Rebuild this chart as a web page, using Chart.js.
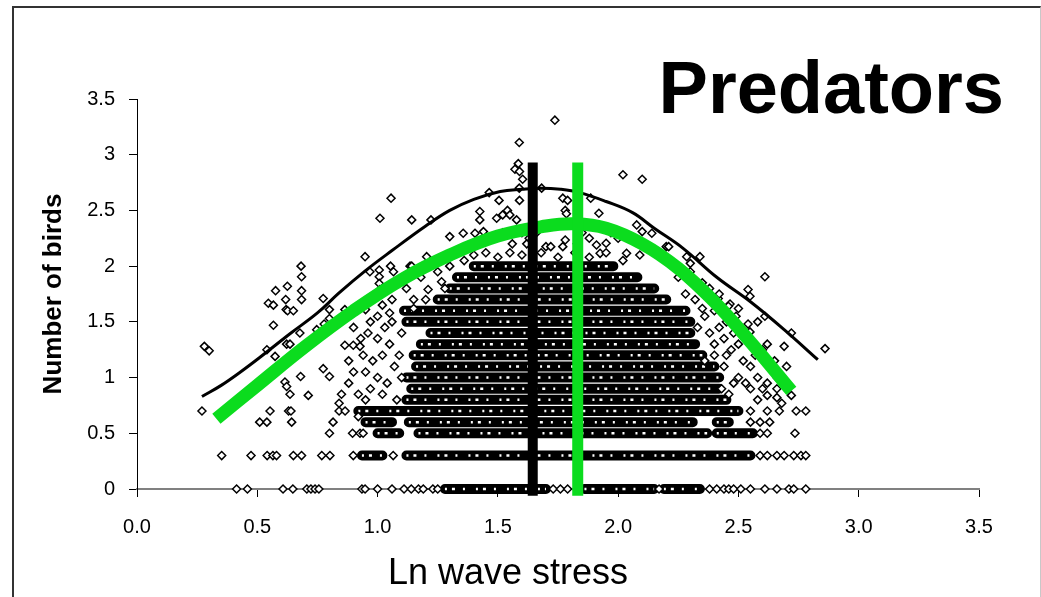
<!DOCTYPE html>
<html>
<head>
<meta charset="utf-8">
<title>Predators</title>
<script src="https://cdn.jsdelivr.net/npm/chart.js@4.4.0/dist/chart.umd.min.js"></script>
<style>
    html, body { margin: 0; padding: 0; background: #fff; }
    #wrap { position: relative; width: 1041px; height: 597px; overflow: hidden; }
    #chart { position: absolute; left: 0; top: 0; }
    #frame {
        position: absolute; left: 12px; top: 6px; width: 1026px; height: 591px;
        border-top: 2px solid #333; border-left: 2px solid #333; border-right: 1px solid #c8c8c8;
        pointer-events: none;
    }
</style>
</head>
<body>
<div id="wrap">
    <canvas id="chart" width="1041" height="597"></canvas>
    <div id="frame"></div>
</div>
<script>
const chartTitle = "Predators";
const xTitle = "Ln wave stress";
const yTitle = "Number of birds";

// single birds counts along the low rows (x = ln wave stress)
const row0X = [0.414, 0.459, 0.607, 0.648, 0.706, 0.723, 0.74, 0.756, 0.935, 0.948, 1.00, 1.06, 1.11, 1.14,
    1.17, 1.19, 1.23, 1.25, 1.73, 1.76, 1.79, 2.17, 2.38, 2.41, 2.44, 2.46, 2.48, 2.51, 2.55, 2.61, 2.66, 2.71,
    2.73, 2.78];
const row03X = [0.352, 0.474, 0.541, 0.565, 0.58, 0.65, 0.684, 0.768, 0.802, 0.899, 1.065, 2.59, 2.62, 2.66,
    2.69, 2.73, 2.76, 2.78];
const row05X = [0.80, 0.896, 0.927, 0.94, 2.59, 2.62, 2.735];
const row06X = [0.51, 0.54, 0.643, 0.815, 2.55, 2.59, 2.63];
const row07X = [0.27, 0.553, 0.63, 0.64, 0.84, 0.865, 2.55, 2.62, 2.67, 2.74, 2.78];

// scattered points away from the rows [x, y]
const otherPoints = [
    [0.28, 1.28], [0.30, 1.24], [0.54, 1.25], [0.567, 1.47], [0.546, 1.667], [0.567, 1.65], [0.576, 1.78],
    [0.574, 1.19], [0.618, 1.70], [0.625, 1.82], [0.62, 1.61], [0.626, 1.60], [0.65, 1.60], [0.622, 1.30],
    [0.636, 1.30], [0.615, 0.96], [0.622, 0.92], [0.636, 0.85], [0.682, 2.0], [0.684, 1.905], [0.684, 1.78],
    [0.684, 1.70], [0.677, 1.40], [0.68, 1.01], [0.712, 0.84], [0.774, 1.71], [0.80, 1.61], [0.80, 1.53],
    [0.778, 1.48], [0.747, 1.43], [0.774, 1.08], [0.80, 1.01], [0.84, 0.77], [0.864, 1.61], [0.864, 1.29],
    [0.899, 1.29], [0.927, 1.28], [0.948, 2.085], [0.968, 1.95], [1.007, 1.965], [1.007, 1.905], [1.007, 1.845],
    [1.01, 1.79], [1.054, 2.0], [1.066, 1.95], [1.05, 1.58], [1.135, 2.0], [1.056, 2.61], [1.01, 2.43],
    [0.95, 1.61], [0.97, 1.50], [1.00, 1.55], [1.03, 1.45], [0.96, 1.40], [1.00, 1.35], [1.05, 1.30],
    [0.94, 1.20], [0.98, 1.15], [1.02, 1.20], [1.07, 1.10], [0.95, 1.05], [1.00, 1.00], [1.04, 0.95],
    [0.97, 0.90], [1.02, 0.85], [1.08, 0.80], [0.95, 0.80], [1.10, 1.40], [1.09, 1.20], [1.10, 1.00],
    [0.90, 1.05], [0.88, 0.95], [0.92, 0.85], [0.93, 1.35], [0.90, 1.45], [0.98, 1.70], [1.02, 1.65],
    [1.06, 1.70], [1.12, 1.80], [1.18, 1.90], [1.25, 1.95], [1.30, 2.00], [1.20, 1.70], [1.15, 1.62],
    [0.88, 1.15], [0.85, 0.85], [0.92, 0.65], [1.06, 1.50],
    [1.737, 3.31], [1.589, 3.11], [1.585, 2.92], [1.571, 2.87], [1.59, 2.85], [1.603, 2.78], [1.589, 2.70],
    [1.682, 2.70], [2.02, 2.82], [2.10, 2.78], [1.142, 2.415], [1.222, 2.415], [1.464, 2.66], [1.505, 2.59],
    [1.59, 2.59], [1.54, 2.50], [1.52, 2.46], [1.55, 2.46], [1.495, 2.43], [1.578, 2.415], [1.77, 2.61],
    [1.79, 2.59], [1.78, 2.50], [1.785, 2.47], [1.886, 2.61], [1.92, 2.475], [1.425, 2.49], [1.425, 2.415],
    [1.30, 2.265], [1.356, 2.295], [1.405, 2.295], [1.44, 2.31], [1.204, 2.085], [1.142, 2.0], [1.266, 1.86],
    [1.28, 1.80], [1.21, 1.79], [1.15, 1.70], [1.70, 2.175], [1.72, 2.175], [1.78, 2.235], [1.77, 2.175],
    [2.077, 2.37], [2.10, 2.31], [2.14, 2.295], [2.20, 2.175], [2.285, 2.085], [2.30, 2.025], [1.91, 2.19],
    [1.95, 2.205], [1.925, 2.115], [2.035, 2.115], [2.09, 2.10], [1.60, 2.30], [1.63, 2.25], [1.66, 2.30],
    [1.52, 2.30], [1.48, 2.25], [1.56, 2.20], [1.62, 2.20], [1.85, 2.30], [1.88, 2.25], [1.83, 2.20],
    [1.97, 2.30], [2.00, 2.25],
    [1.40, 2.10], [1.45, 2.12], [1.50, 2.08], [1.55, 2.12], [1.60, 2.10], [1.68, 2.12], [1.75, 2.08],
    [1.82, 2.12], [1.88, 2.08], [1.95, 2.12], [1.36, 2.05], [2.02, 2.05],
    [2.21, 2.175], [2.34, 2.085], [2.61, 1.905], [2.416, 1.71], [2.465, 1.66], [2.458, 1.64], [2.54, 1.79],
    [2.548, 1.73], [2.49, 1.55], [2.61, 1.55], [2.54, 1.48], [2.548, 1.41], [2.72, 1.40], [2.62, 1.30],
    [2.69, 1.28], [2.86, 1.26], [2.72, 0.84], [2.68, 0.77], [2.62, 0.84], [2.30, 1.95], [2.35, 1.85],
    [2.38, 1.80], [2.25, 1.90], [2.40, 1.60], [2.45, 1.50], [2.42, 1.45], [2.48, 1.40], [2.50, 1.30],
    [2.45, 1.20], [2.52, 1.15], [2.55, 1.10], [2.58, 1.00], [2.50, 1.00], [2.55, 0.90], [2.60, 0.90],
    [2.48, 0.95], [2.40, 1.30], [2.38, 1.40], [2.44, 1.10], [2.66, 0.90], [2.57, 1.20],
    [2.32, 1.70], [2.36, 1.55], [2.33, 1.45], [2.40, 1.20], [2.43, 0.90], [2.46, 0.85], [2.36, 1.15],
    [2.42, 1.75], [2.28, 1.75], [2.35, 1.62], [2.47, 1.25], [2.52, 1.40], [2.58, 1.50], [2.44, 1.35],
    [2.50, 1.62], [2.53, 0.95], [2.58, 0.80], [2.62, 0.95], [2.66, 1.00], [2.70, 1.10], [2.65, 1.15],
    [2.60, 1.25], [2.66, 0.82],
];

// runs where the diamonds overlap into a solid band [y, xFrom, xTo]
const denseRuns = [
    [0, 1.28, 1.70], [0, 1.86, 2.15], [0, 2.19, 2.34],
    [0.3, 0.935, 1.02], [0.3, 1.12, 2.55],
    [0.5, 1.00, 1.09], [0.5, 1.17, 2.37], [0.5, 2.41, 2.56],
    [0.6, 0.95, 1.06], [0.6, 1.13, 2.31], [0.6, 2.41, 2.46],
    [0.7, 0.92, 2.50],
    [0.8, 1.12, 2.45],
    [0.9, 1.14, 2.42],
    [1.0, 1.12, 2.42],
    [1.1, 1.16, 2.40],
    [1.2, 1.15, 2.35],
    [1.3, 1.18, 2.32],
    [1.4, 1.22, 2.30],
    [1.5, 1.12, 2.30],
    [1.6, 1.11, 2.28],
    [1.7, 1.25, 2.20],
    [1.8, 1.30, 2.15],
    [1.9, 1.33, 2.08],
    [2.0, 1.40, 1.98],
];

// upper envelope (thin black) and fitted curve (thick green)
const upperX = [0.27, 0.35, 0.43, 0.51, 0.64, 0.75, 0.84, 0.95, 1.06, 1.20, 1.30, 1.40, 1.51, 1.60, 1.68, 1.76,
    1.84, 1.95, 2.06, 2.15, 2.27, 2.41, 2.55, 2.69, 2.83];
const upperY = [0.83, 0.93, 1.05, 1.18, 1.40, 1.58, 1.76, 1.96, 2.14, 2.36, 2.50, 2.60, 2.67, 2.69, 2.70, 2.69,
    2.66, 2.58, 2.48, 2.34, 2.16, 1.90, 1.68, 1.43, 1.16];
const fitX = [0.33, 0.50, 0.70, 0.90, 1.10, 1.30, 1.50, 1.70, 1.82, 1.95, 2.10, 2.25, 2.40, 2.55, 2.72];
const fitY = [0.63, 0.93, 1.28, 1.60, 1.88, 2.10, 2.27, 2.36, 2.38, 2.34, 2.20, 1.98, 1.68, 1.32, 0.88];

// vertical markers: mean stress (black) and optimum (green)
const meanStressX = 1.645;
const optimumX = 1.832;
const markerBottom = -0.06;
const markerTop = 2.93;

const GREEN = "#0bdc1e";
const FONT = "'Liberation Sans', Arial, sans-serif";

function buildScatter() {
    const pts = [];
    const rows = [[0, row0X], [0.3, row03X], [0.5, row05X], [0.6, row06X], [0.7, row07X]];
    rows.forEach(([y, xs]) => xs.forEach((x) => pts.push({ x, y })));
    otherPoints.forEach(([x, y]) => pts.push({ x, y }));
    return pts;
}

function buildRuns() {
    const pts = [];
    denseRuns.forEach(([y, x0, x1]) => {
        pts.push({ x: x0, y }, { x: x1, y }, { x: x1, y: null });
    });
    return pts;
}

const toXY = (xs, ys) => xs.map((x, i) => ({ x, y: ys[i] }));

const textPlugin = {
    id: "freeText",
    afterDraw(chart) {
        const ctx = chart.ctx;
        ctx.save();
        ctx.fillStyle = "#000";
        ctx.textBaseline = "alphabetic";
        ctx.font = `bold 74px ${FONT}`;
        ctx.textAlign = "right";
        ctx.fillText(chartTitle, 1004, 113);
        ctx.font = `36px ${FONT}`;
        ctx.textAlign = "center";
        ctx.fillText(xTitle, 508, 584);
        ctx.restore();
    },
};

new Chart(document.getElementById("chart"), {
    type: "scatter",
    data: {
        datasets: [
            {
                type: "line",
                data: [{ x: meanStressX, y: markerBottom }, { x: meanStressX, y: markerTop }],
                borderColor: "#000",
                borderWidth: 10,
                borderCapStyle: "butt",
                pointRadius: 0,
                clip: false,
            },
            {
                type: "line",
                data: [{ x: optimumX, y: markerBottom }, { x: optimumX, y: markerTop }],
                borderColor: GREEN,
                borderWidth: 11,
                borderCapStyle: "butt",
                pointRadius: 0,
                clip: false,
            },
            {
                type: "line",
                data: toXY(fitX, fitY),
                borderColor: GREEN,
                borderWidth: 13,
                borderCapStyle: "butt",
                tension: 0.4,
                pointRadius: 0,
            },
            {
                type: "line",
                data: toXY(upperX, upperY),
                borderColor: "#000",
                borderWidth: 3,
                tension: 0.4,
                pointRadius: 0,
            },
            {
                data: buildScatter(),
                pointStyle: "rectRot",
                pointRadius: 4,
                borderWidth: 1.5,
                borderColor: "#000",
                backgroundColor: "#fff",
                clip: false,
            },
            {
                // white specks: the open centres of the overlapping diamonds
                type: "line",
                data: buildRuns(),
                borderColor: "#fff",
                borderWidth: 2.5,
                borderDash: [2, 5, 3, 8, 2, 11],
                borderCapStyle: "butt",
                spanGaps: false,
                pointRadius: 0,
                clip: false,
            },
            {
                type: "line",
                data: buildRuns(),
                borderColor: "#000",
                borderWidth: 10,
                borderCapStyle: "round",
                spanGaps: false,
                pointRadius: 0,
                clip: false,
            },
        ],
    },
    options: {
        responsive: false,
        animation: false,
        layout: { padding: { top: 99, right: 62, left: 0, bottom: 0 } },
        plugins: {
            legend: { display: false },
            tooltip: { enabled: false },
        },
        scales: {
            x: {
                type: "linear",
                min: 0,
                max: 3.5,
                afterFit: (scale) => { scale.height = 108; },
                ticks: {
                    stepSize: 0.5,
                    padding: 18,
                    color: "#000",
                    font: { family: FONT, size: 20 },
                    callback: (v) => Number(v).toFixed(1),
                },
                grid: { drawOnChartArea: false, drawTicks: true, tickLength: 8, color: "#000" },
                border: { display: true, color: "#808080", width: 2 },
            },
            y: {
                min: 0,
                max: 3.5,
                afterFit: (scale) => { scale.width = 137; },
                ticks: {
                    stepSize: 0.5,
                    padding: 14,
                    color: "#000",
                    font: { family: FONT, size: 20 },
                    callback: (v) => String(Math.round(v * 10) / 10),
                },
                grid: { drawOnChartArea: false, drawTicks: true, tickLength: 8, color: "#000" },
                border: { display: true, color: "#000", width: 1 },
                title: {
                    display: true,
                    text: yTitle,
                    color: "#000",
                    font: { family: FONT, size: 26, weight: "bold" },
                    padding: { top: 38, bottom: 0 },
                },
            },
        },
    },
    plugins: [textPlugin],
});
</script>
</body>
</html>
